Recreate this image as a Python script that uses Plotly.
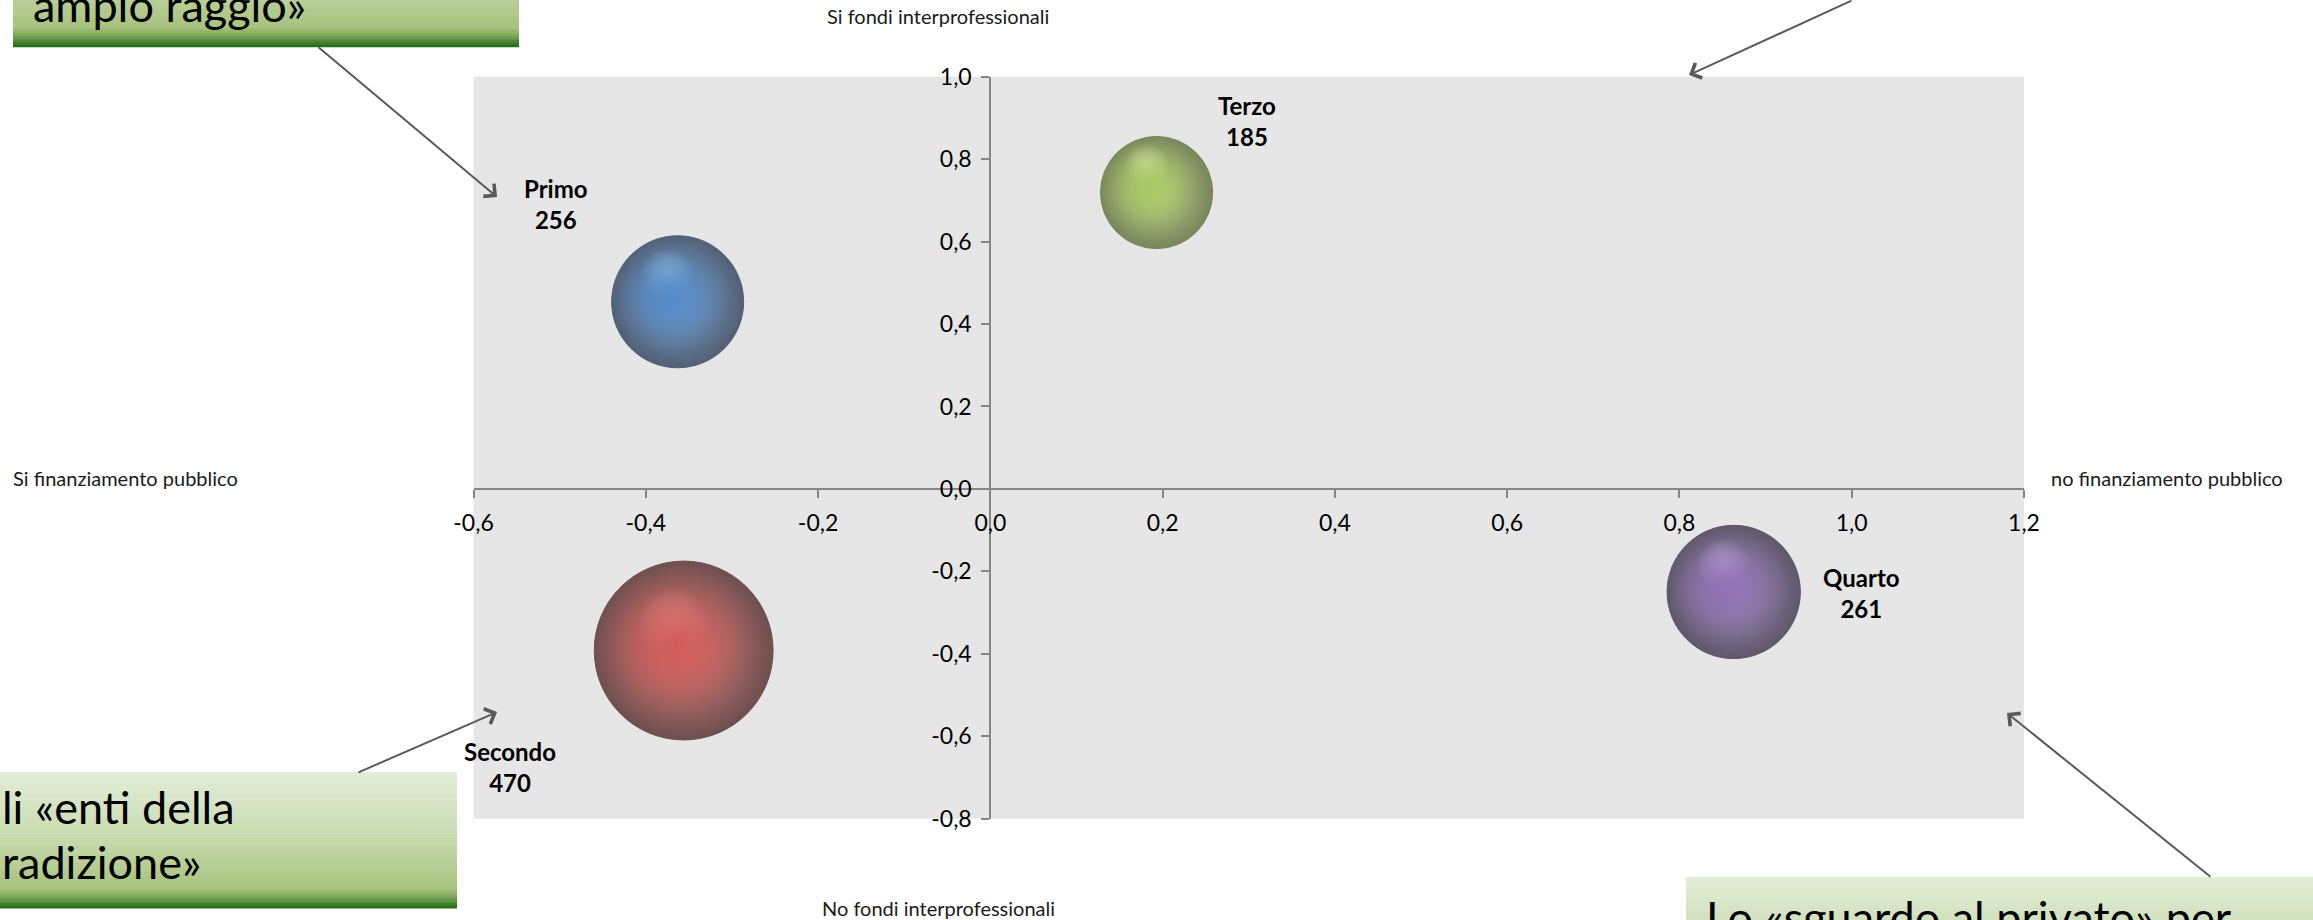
import plotly.graph_objects as go

# ---------------- data ----------------
groups = ["Primo", "Secondo", "Terzo", "Quarto"]
public_funding = [-0.363, -0.356, 0.193, 0.863]     # x: finanziamento pubblico
interprof_funds = [0.454, -0.392, 0.719, -0.250]    # y: fondi interprofessionali
n_enti = [256, 470, 185, 261]                       # bubble size = number of bodies

x_range = [-0.6, 1.2]
y_range = [-0.8, 1.0]
x_ticks = [-0.6, -0.4, -0.2, 0.0, 0.2, 0.4, 0.6, 0.8, 1.0, 1.2]
y_ticks = [-0.8, -0.6, -0.4, -0.2, 0.0, 0.2, 0.4, 0.6, 0.8, 1.0]

# sphere colours: body, shadowed rim, specular light
body_colors = ["#5088C8", "#D05855", "#A8C862", "#8C6EB2"]
rim_colors = ["#142847", "#3E1010", "#4B5F22", "#261B37"]
light_colors = ["rgba(195,232,255,1)", "rgba(255,182,180,1)",
                "rgba(245,255,205,1)", "rgba(236,218,255,1)"]

# ---------------- page geometry (pixels) ----------------
W, H = 2313, 920
FONT = "Lato"


def px(x):
    return x / W


def py(y):
    return 1 - y / H


plot_left, plot_right = 473.5, 2024.0
plot_top, plot_bottom = 76.7, 818.7
xdom = [px(plot_left), px(plot_right)]
ydom = [py(plot_bottom), py(plot_top)]
x_per_px = (x_range[1] - x_range[0]) / (plot_right - plot_left)
y_per_px = (y_range[1] - y_range[0]) / (plot_bottom - plot_top)

# axes cross at the origin
x_axis_pos = ydom[0] + (0 - y_range[0]) / (y_range[1] - y_range[0]) * (ydom[1] - ydom[0])
y_axis_pos = xdom[0] + (0 - x_range[0]) / (x_range[1] - x_range[0]) * (xdom[1] - xdom[0])

# bubble scaling (area mode)
SIZEREF = 0.02938


def rgba(hex_color, a):
    h = hex_color.lstrip("#")
    r, g, b = int(h[0:2], 16), int(h[2:4], 16), int(h[4:6], 16)
    return f"rgba({r},{g},{b},{a})"


def tick_text(vals):
    return [f"{v:.1f}".replace(".", ",") for v in vals]


fig = go.Figure()


def sphere_layer(frac, edge, centre, axes=("x", "y"), line=None):
    fig.add_trace(go.Scatter(
        x=public_funding, y=interprof_funds, mode="markers",
        xaxis=axes[0], yaxis=axes[1],
        marker=dict(size=n_enti, sizemode="area", sizeref=SIZEREF / frac ** 2,
                    color=edge,
                    gradient=dict(type="radial", color=centre),
                    line=line or dict(width=0)),
        hoverinfo="skip", showlegend=False,
    ))


# dark rim fading to the body colour
sphere_layer(1.0, rim_colors, body_colors, line=dict(width=1, color=rim_colors))
# lit body, nudged up-left so the shadow stays on the lower right
sphere_layer(0.9, [rgba(c, 0) for c in body_colors], body_colors, axes=("x3", "y3"))
sphere_layer(0.68, [rgba(c, 0) for c in body_colors], body_colors, axes=("x3", "y3"))
# specular spot
sphere_layer(0.40, [c.rsplit(",", 1)[0] + ",0)" for c in light_colors], light_colors,
             axes=("x2", "y2"))

# bubble labels (name + count)
label_shift = {
    "Primo": (-122, 98),
    "Secondo": (-174, -116),
    "Terzo": (90, 72),
    "Quarto": (128, -1),
}
annotations = []
for g, xv, yv, n in zip(groups, public_funding, interprof_funds, n_enti):
    dx, dy = label_shift[g]
    annotations.append(dict(
        x=xv, y=yv, xref="x", yref="y", text=f"<b>{g}<br>{n}</b>",
        showarrow=False, xshift=dx, yshift=dy, align="center",
        xanchor="center", yanchor="middle",
        font=dict(family=FONT, size=24, color="#000000"),
    ))

# quadrant descriptions
side_font = dict(family=FONT, size=20, color="#1A1A1A")
annotations += [
    dict(x=px(938), y=py(16), text="Si fondi interprofessionali", xanchor="center", yanchor="middle"),
    dict(x=px(938), y=py(908), text="No fondi interprofessionali", xanchor="center", yanchor="middle"),
    dict(x=px(11), y=py(478), text="Si finanziamento pubblico", xanchor="left", yanchor="middle"),
    dict(x=px(2049), y=py(478), text="no finanziamento pubblico", xanchor="left", yanchor="middle"),
]
for a in annotations[-4:]:
    a.update(xref="paper", yref="paper", showarrow=False, font=side_font)

# callout boxes with green gradient
box_stops = [(0.0, "#E2EDD7"), (0.45, "#CADCB3"), (0.86, "#A7C27C"),
             (0.91, "#86AC60"), (1.0, "#1E6C14")]


def hex_rgb(c):
    c = c.lstrip("#")
    return [int(c[i:i + 2], 16) for i in (0, 2, 4)]


def grad_color(t):
    for (t0, c0), (t1, c1) in zip(box_stops[:-1], box_stops[1:]):
        if t0 <= t <= t1:
            f = (t - t0) / (t1 - t0) if t1 > t0 else 0
            a, b = hex_rgb(c0), hex_rgb(c1)
            return "rgb({},{},{})".format(*[round(a[i] + (b[i] - a[i]) * f) for i in range(3)])
    return box_stops[-1][1]


shapes = []


def gradient_box(x0, x1, y0, y1, n=80):
    h = (y1 - y0) / n
    for i in range(n):
        ya = y0 + i * h
        yb = ya + h + 0.6
        shapes.append(dict(type="rect", xref="paper", yref="paper",
                           x0=px(x0), x1=px(x1), y0=py(yb), y1=py(ya),
                           fillcolor=grad_color((i + 0.5) / n), line=dict(width=0),
                           layer="above"))


gradient_box(13, 519, -90, 46.7)
gradient_box(-40, 457, 772, 908)
gradient_box(1686, 2340, 877, 1013)

box_font = dict(family=FONT, size=45, color="#000000")
for txt, x0, ymid in [("ampio raggio»", 31, 5),
                      ("li «enti della", 0, 807),
                      ("radizione»", 0, 862),
                      ("Lo «sguardo al privato» per", 1704, 917)]:
    annotations.append(dict(x=px(x0), y=py(ymid), xref="paper", yref="paper",
                            text=txt, showarrow=False, xanchor="left",
                            yanchor="middle", font=box_font))

# pointer arrows: (tip, tail) in pixels
arrows = [((497, 197), (317, 46)),
          ((497, 712), (357, 773)),
          ((2007, 713), (2212, 878)),
          ((1689, 75), (1853, -2))]
for (tx, ty), (sx, sy) in arrows:
    annotations.append(dict(x=px(tx), y=py(ty), xref="paper", yref="paper",
                            ax=sx - tx, ay=sy - ty, axref="pixel", ayref="pixel",
                            text="", showarrow=True, arrowhead=4, arrowsize=1.6,
                            arrowwidth=2, arrowcolor="#595959"))

axis_common = dict(showline=True, linecolor="#868686", linewidth=2,
                   ticks="outside", ticklen=8, tickwidth=2, tickcolor="#868686",
                   showgrid=False, zeroline=False,
                   tickfont=dict(family=FONT, size=23, color="#000000"),
                   ticklabelstandoff=5, fixedrange=True)


def shifted(rng, per_px, shift_px):
    return [rng[0] + shift_px * per_px, rng[1] + shift_px * per_px]


fig.update_layout(
    width=W, height=H,
    margin=dict(l=0, r=0, t=0, b=0, autoexpand=False),
    paper_bgcolor="#FFFFFF",
    plot_bgcolor="#E6E6E6",
    showlegend=False,
    xaxis=dict(range=x_range, domain=xdom, tickvals=x_ticks, ticktext=tick_text(x_ticks),
               anchor="free", position=x_axis_pos, **axis_common),
    yaxis=dict(range=y_range, domain=ydom, tickvals=y_ticks, ticktext=tick_text(y_ticks),
               anchor="free", position=y_axis_pos, **axis_common),
    # overlay frames used for the shading offsets (light from the upper left)
    xaxis2=dict(range=shifted(x_range, x_per_px, 10), overlaying="x", anchor="y2",
                visible=False, fixedrange=True),
    yaxis2=dict(range=shifted(y_range, y_per_px, -27), overlaying="y", anchor="x2",
                visible=False, fixedrange=True),
    xaxis3=dict(range=shifted(x_range, x_per_px, 7), overlaying="x", anchor="y3",
                visible=False, fixedrange=True),
    yaxis3=dict(range=shifted(y_range, y_per_px, -6), overlaying="y", anchor="x3",
                visible=False, fixedrange=True),
    annotations=annotations,
    shapes=shapes,
)

fig.write_html("out.html")
